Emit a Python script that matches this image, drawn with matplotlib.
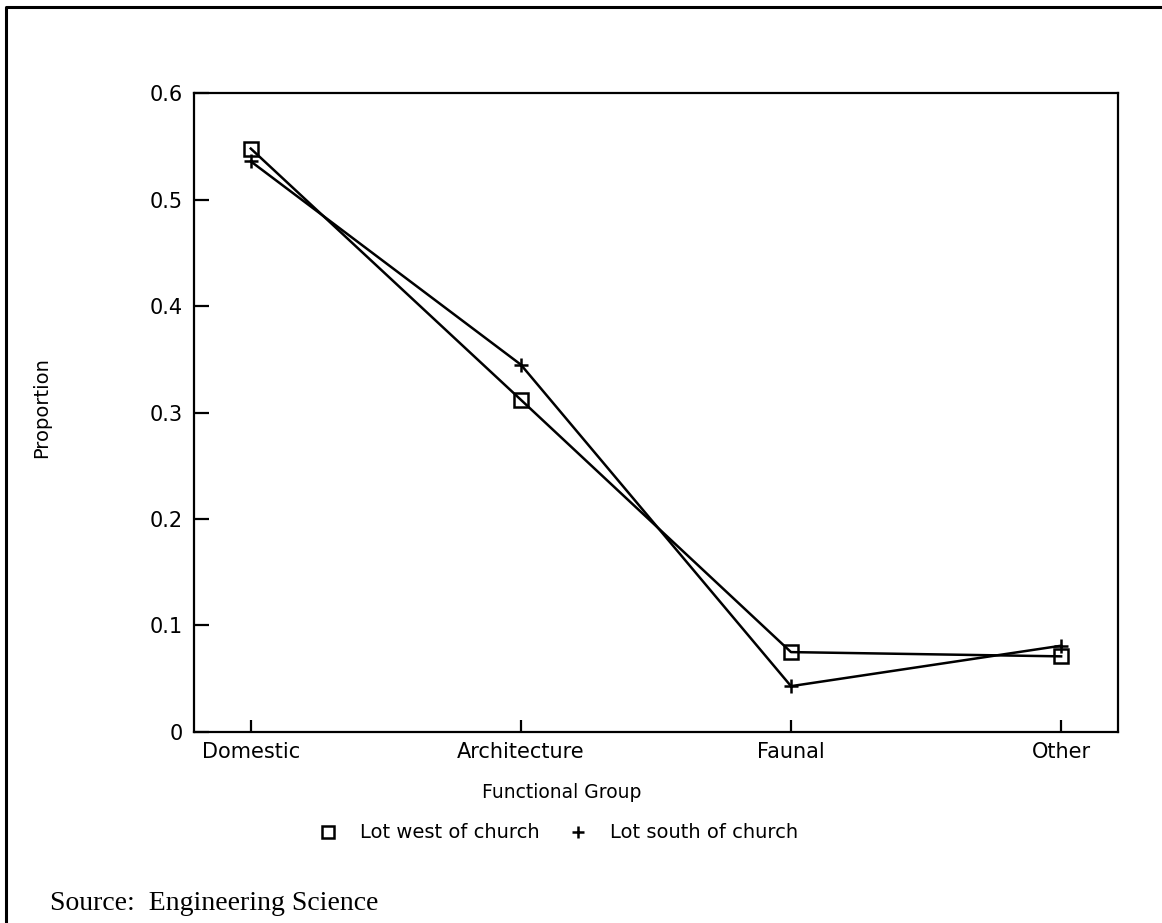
import matplotlib.pyplot as plt
from matplotlib.lines import Line2D

# Functional group proportions
groups = ["Domestic", "Architecture", "Faunal", "Other"]
lot_west = [0.548, 0.312, 0.075, 0.071]
lot_south = [0.536, 0.345, 0.043, 0.081]
y_ticks = [0, 0.1, 0.2, 0.3, 0.4, 0.5, 0.6]
y_tick_labels = ["0", "0.1", "0.2", "0.3", "0.4", "0.5", "0.6"]

plt.rcParams['font.family'] = ['DejaVu Sans']

fig = plt.figure(figsize=(11.62, 9.23), dpi=100)
ax = fig.add_axes([0.167, 0.207, 0.795, 0.692])

x = list(range(len(groups)))
ax.plot(x, lot_west, color="black", lw=1.8, marker="s", ms=10,
        mfc="none", mec="black", mew=1.8)
ax.plot(x, lot_south, color="black", lw=1.8, marker="+", ms=10, mew=1.8)

ax.set_xlim(-0.21, 3.21)
ax.set_ylim(0, 0.6)
ax.set_xticks(x)
ax.set_xticklabels(groups, fontsize=15)
ax.set_yticks(y_ticks)
ax.set_yticklabels(y_tick_labels, fontsize=15)
ax.tick_params(axis="y", direction="in", length=11, width=1.6, pad=8)
ax.tick_params(axis="x", direction="in", length=9, width=1.6, pad=7)
for sp in ax.spines.values():
    sp.set_linewidth(1.6)

# axis titles and legend, placed like the original plotter output
fig.text(562 / 1162, 1 - 793 / 923, "Functional Group", fontsize=13.5,
         ha="center", va="center")
fig.text(42 / 1162, 1 - 408 / 923, "Proportion", fontsize=14, rotation=90,
         ha="center", va="center")

ly = 1 - 832 / 923
fig.add_artist(Line2D([328 / 1162], [ly], marker="s", ms=8, mfc="none",
                      mec="black", mew=1.8, transform=fig.transFigure))
fig.text(360 / 1162, ly, "Lot west of church", fontsize=14, va="center")
fig.add_artist(Line2D([578 / 1162], [ly], marker="+", ms=9, color="black",
                      mew=1.8, transform=fig.transFigure))
fig.text(610 / 1162, ly, "Lot south of church", fontsize=14, va="center")

fig.text(50 / 1162, 1 - 903 / 923, "Source:  Engineering Science",
         fontsize=20, family="Liberation Serif", va="center")

# page border (top and left edges visible)
fig.add_artist(Line2D([6 / 1162, 6 / 1162, 1.0], [0.0, 1 - 7 / 923, 1 - 7 / 923],
                      color="black", lw=2.2, transform=fig.transFigure))

fig.savefig("out.png", dpi=100)
